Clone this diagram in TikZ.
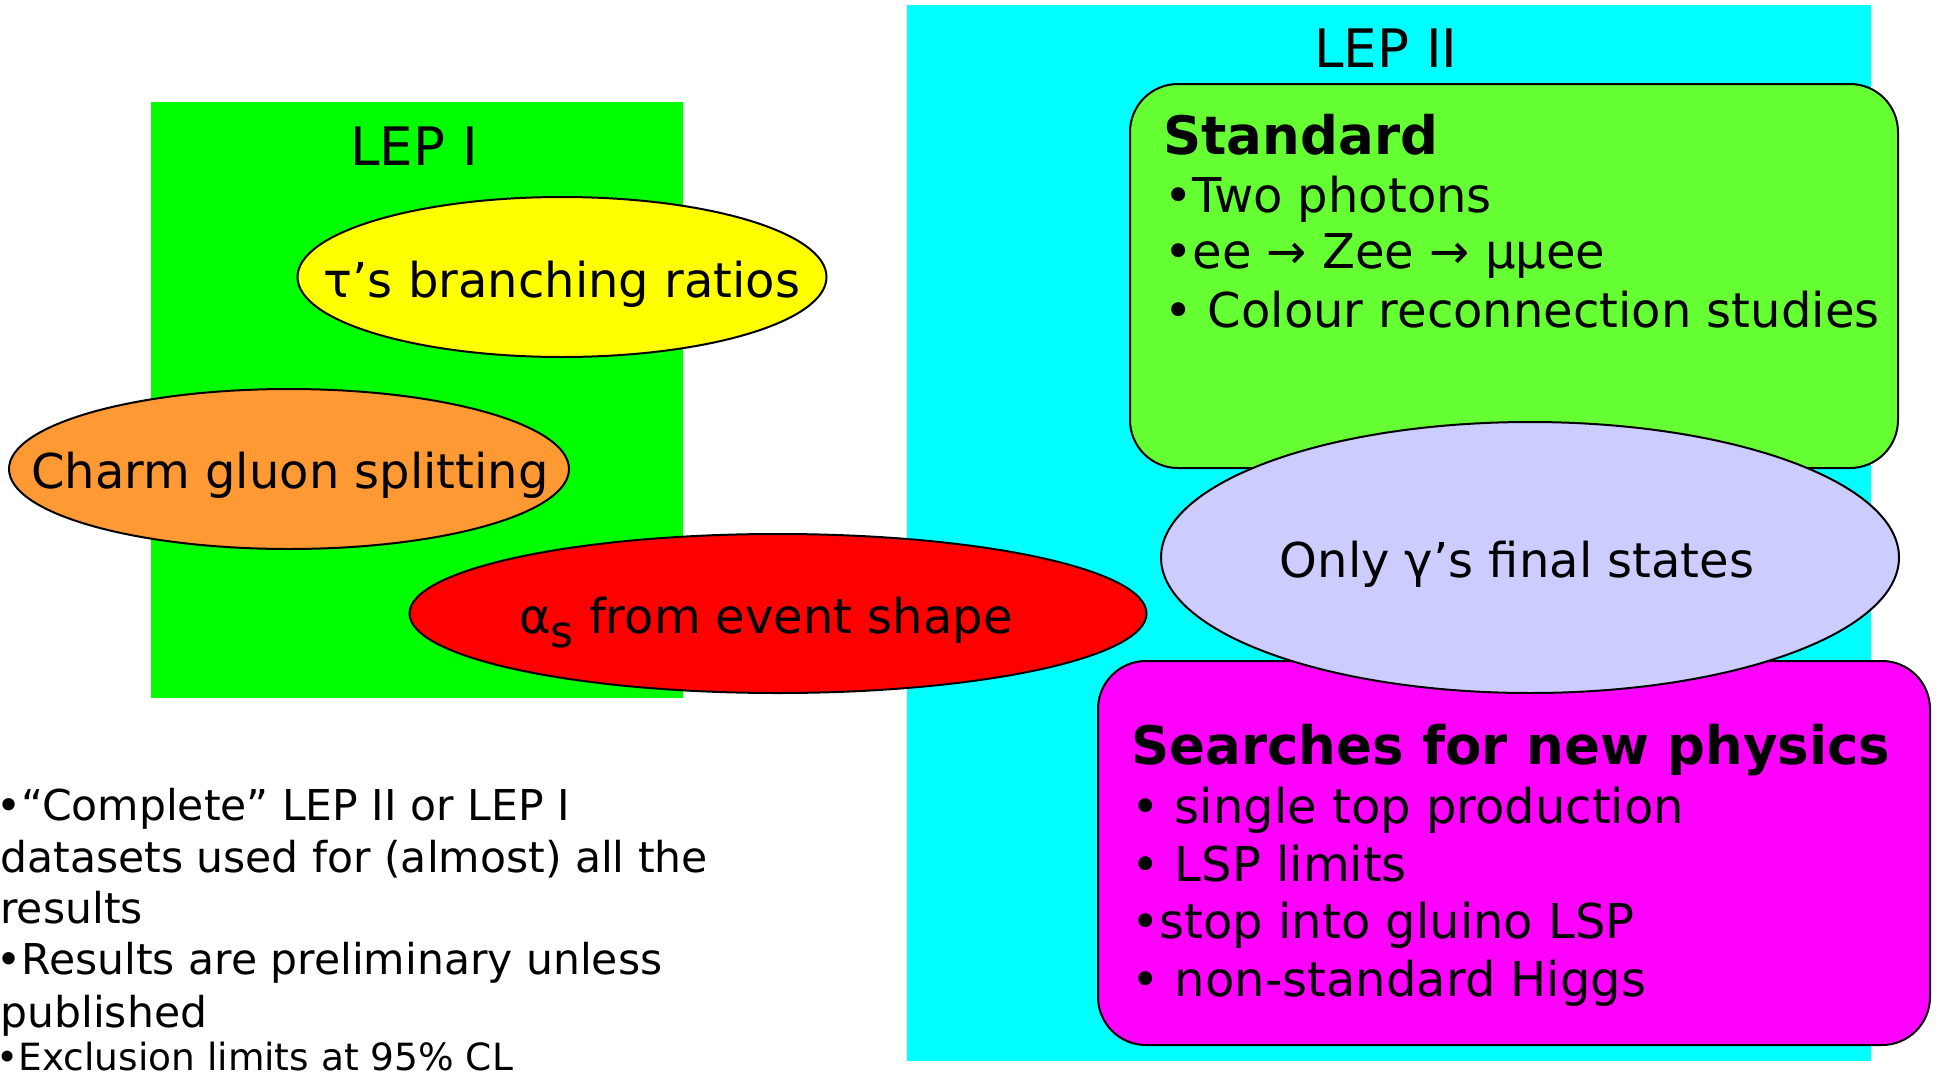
\documentclass[tikz,border=0pt]{standalone}
\usepackage{fontspec}
\setmainfont{DejaVu Sans}
\usetikzlibrary{shapes.geometric}
\definecolor{lepone}{HTML}{00FF00}
\definecolor{leptwo}{HTML}{00FFFF}
\definecolor{yel}{HTML}{FFFF00}
\definecolor{ora}{HTML}{FF9933}
\definecolor{redd}{HTML}{FF0000}
\definecolor{stdgreen}{HTML}{66FF33}
\definecolor{lav}{HTML}{CCCCFF}
\definecolor{mag}{HTML}{FF00FF}
\tikzset{
  area/.style={rectangle, fill=#1, draw=none, inner sep=0pt, outer sep=0pt},
  blob/.style={ellipse, fill=#1, draw=black, line width=1pt, inner sep=0pt},
  panel/.style={rectangle, rounded corners=24pt, fill=#1, draw=black, line width=1pt, inner sep=0pt},
  bodytxt/.style={font=\fontsize{24pt}{29pt}\selectfont, inner sep=0pt, anchor=base west},
  centertxt/.style={font=\fontsize{24pt}{29pt}\selectfont, inner sep=0pt, anchor=base},
  titletxt/.style={font=\fontsize{26.5pt}{31pt}\selectfont\bfseries, inner sep=0pt, anchor=base west},
  leptxt/.style={font=\fontsize{26.5pt}{31pt}\selectfont, inner sep=0pt, anchor=base},
  notetxt/.style={font=\fontsize{21.25pt}{25pt}\selectfont, inner sep=0pt, anchor=base west},
}
\begin{document}
\begin{tikzpicture}[x=0.5pt,y=-0.5pt]
\useasboundingbox (0,0) rectangle (1940,1076);
% background areas
\node[area=lepone, minimum width=266pt, minimum height=298pt] (lep1) at (417,400) {};
\node[area=leptwo, minimum width=482pt, minimum height=528pt] (lep2) at (1389,533) {};
\node[leptxt] (lep1lbl) at (414,165) {LEP I};
\node[leptxt] (lep2lbl) at (1386,68) {LEP II};
% LEP I ellipses
\node[blob=yel, minimum width=264.5pt, minimum height=80pt] (tau) at (562,277) {};
\node[centertxt] (tautxt) at (562,297) {τ’s branching ratios};
\node[blob=ora, minimum width=280pt, minimum height=80pt] (charm) at (289,469) {};
\node[centertxt] (charmtxt) at (290,488) {Charm gluon splitting};
\node[blob=redd, minimum width=368.5pt, minimum height=79.5pt] (alpha) at (778,613.5) {};
\node[centertxt] (alphatxt) at (766,633) {α\raisebox{-7pt}{\fontsize{22pt}{22pt}\selectfont s} from event shape};
% LEP II panels
\node[panel=stdgreen, minimum width=384pt, minimum height=192pt] (std) at (1514,276) {};
\node[titletxt] (stdtitle) at (1163,154) {Standard};
\node[bodytxt] (std1) at (1164,212) {•Two photons};
\node[bodytxt] (std2) at (1164,268) {•ee → Zee → μμee};
\node[bodytxt] (std3) at (1164,327) {• Colour reconnection studies};
\node[panel=mag, minimum width=416pt, minimum height=192pt] (np) at (1514,853) {};
\node[titletxt] (nptitle) at (1131,764) {Searches for new physics};
\node[bodytxt] (np1) at (1131,823) {• single top production};
\node[bodytxt] (np2) at (1131,881) {• LSP limits};
\node[bodytxt] (np3) at (1131,938) {•stop into gluino LSP};
\node[bodytxt] (np4) at (1131,996) {• non-standard Higgs};
\node[blob=lav, minimum width=369pt, minimum height=135.5pt] (gam) at (1530,557.5) {};
\node[centertxt] (gamtxt) at (1517,577) {Only γ’s final states};
% notes
\node[notetxt] (n1) at (-4,820) {•“Complete” LEP II or LEP I};
\node[notetxt] (n2) at (0,872) {datasets used for (almost) all the};
\node[notetxt] (n3) at (0,923) {results};
\node[notetxt] (n4) at (-4,974) {•Results are preliminary unless};
\node[notetxt] (n5) at (0,1027) {published};
\node[notetxt, font=\fontsize{18.75pt}{22pt}\selectfont, text depth=0pt] (n6) at (-4,1070) {•Exclusion limits at 95\% CL};
\end{tikzpicture}
\end{document}
